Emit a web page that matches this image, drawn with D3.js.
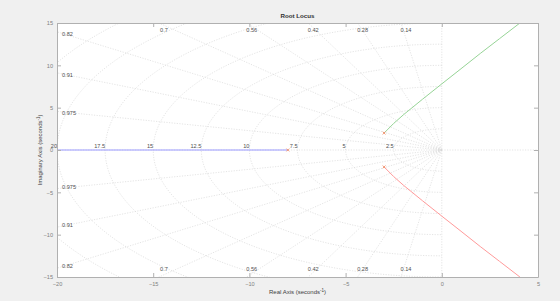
<!DOCTYPE html>
<html>
<head>
<meta charset="utf-8">
<script src="https://cdn.jsdelivr.net/npm/d3@7"></script>
<style>
  body { margin: 0; background: #f0f0f0; }
  text { font-family: "Liberation Sans", Arial, sans-serif; }
</style>
</head>
<body>
<div id="chart"></div>
<script>
// axis ticks
const xTicks = [-20, -15, -10, -5, 0, 5];
const yTicks = [-15, -10, -5, 0, 5, 10, 15];

// open-loop poles (real, imag)
const poleRe = [-8, -3, -3];
const poleIm = [0, 2, -2];

// locus branches
const realBranchX = [-8, -20];
const realBranchY = [0, 0];
const upperBranchX = [-3, -2.5, -2, -1, 0, 1, 2, 3, 4.06];
const upperBranchY = [2, 3.14, 4.15, 6.0, 7.81, 9.6, 11.4, 13.15, 15];
const lowerBranchX = [-3, -2.5, -2, -1, 0, 1, 2, 3, 4.06];
const lowerBranchY = [-2, -3.14, -4.15, -6.0, -7.81, -9.6, -11.4, -13.15, -15];

// s-plane grid
const dampingValues = [0.14, 0.28, 0.42, 0.56, 0.7, 0.82, 0.91, 0.975];
const dampingLabels = ["0.14", "0.28", "0.42", "0.56", "0.7", "0.82", "0.91", "0.975"];
const wnValues = [2.5, 5, 7.5, 10, 12.5, 15, 17.5, 20, 22.5, 25];
const wnLabels = ["2.5", "5", "7.5", "10", "12.5", "15", "17.5", "20", "22.5", "25"];

const W = 560, H = 301;
const m = {left: 57, right: 22, top: 23, bottom: 24};
const pw = W - m.left - m.right, ph = H - m.top - m.bottom;

const x = d3.scaleLinear().domain([-20, 5]).range([0, pw]);
const y = d3.scaleLinear().domain([-15, 15]).range([ph, 0]);

const svg = d3.select("#chart").append("svg")
  .attr("width", W).attr("height", H);
svg.append("rect").attr("width", W).attr("height", H).attr("fill", "#f0f0f0");

const g = svg.append("g").attr("transform", `translate(${m.left},${m.top})`);
g.append("rect").attr("width", pw).attr("height", ph).attr("fill", "#fff");

svg.append("defs").append("clipPath").attr("id", "clip")
  .append("rect").attr("width", pw).attr("height", ph);

const plot = g.append("g").attr("clip-path", "url(#clip)");
const gridColor = "#d8d8d8";
const dash = "1.2,1.4";

// natural frequency semicircles
wnValues.forEach(r => {
  const pts = d3.range(90, 271, 2).map(a => [r * Math.cos(a * Math.PI / 180), r * Math.sin(a * Math.PI / 180)]);
  plot.append("path")
    .attr("d", d3.line().x(d => x(d[0])).y(d => y(d[1]))(pts))
    .attr("fill", "none").attr("stroke", gridColor)
    .attr("stroke-width", 0.7).attr("stroke-dasharray", dash);
});

// damping rays
dampingValues.forEach(z => {
  const th = Math.acos(z);
  [1, -1].forEach(sg => {
    plot.append("line")
      .attr("x1", x(0)).attr("y1", y(0))
      .attr("x2", x(-40 * Math.cos(th))).attr("y2", y(sg * 40 * Math.sin(th)))
      .attr("stroke", gridColor).attr("stroke-width", 0.7).attr("stroke-dasharray", dash);
  });
});

// zero axes
plot.append("line").attr("x1", 0).attr("x2", pw).attr("y1", y(0)).attr("y2", y(0))
  .attr("stroke", gridColor).attr("stroke-width", 0.7).attr("stroke-dasharray", dash);
plot.append("line").attr("x1", x(0)).attr("x2", x(0)).attr("y1", 0).attr("y2", ph)
  .attr("stroke", gridColor).attr("stroke-width", 0.7).attr("stroke-dasharray", dash);

// grid labels
const labelColor = "#505050";
const fs = 5.6;
dampingValues.forEach((z, i) => {
  const t = Math.tan(Math.acos(z));
  [1, -1].forEach(sg => {
    const xt = 15 / t;
    let lx, ly, anchor;
    if (xt <= 20) {
      lx = x(-xt) + 5; ly = sg > 0 ? 7.5 : ph - 7.5; anchor = "middle";
    } else {
      lx = 5; ly = y(sg * 20 * t) + (sg > 0 ? 2 : -2); anchor = "start";
    }
    g.append("text").attr("x", lx).attr("y", ly).attr("dy", "0.35em")
      .attr("text-anchor", anchor).attr("font-size", fs).attr("fill", labelColor)
      .text(dampingLabels[i]);
  });
});
wnValues.forEach((r, i) => {
  if (-r < -20) return;
  g.append("text").attr("x", x(-r)).attr("y", y(0) - 1.8)
    .attr("text-anchor", "end").attr("font-size", fs).attr("fill", labelColor)
    .text(wnLabels[i]);
});

// locus branches
const line = d3.line().x(d => x(d[0])).y(d => y(d[1]));
const branches = [
  [realBranchX, realBranchY, "#9a9aff"],
  [upperBranchX, upperBranchY, "#96d496"],
  [lowerBranchX, lowerBranchY, "#ff9a9a"]
];
branches.forEach(([bx, by, c]) => {
  plot.append("path").attr("d", line(bx.map((v, i) => [v, by[i]])))
    .attr("fill", "none").attr("stroke", c).attr("stroke-width", 1);
});

// poles
poleRe.forEach((re, i) => {
  const px = x(re), py = y(poleIm[i]), s = 1.4;
  plot.append("path")
    .attr("d", `M${px - s},${py - s}L${px + s},${py + s}M${px - s},${py + s}L${px + s},${py - s}`)
    .attr("stroke", "#f0906c").attr("stroke-width", 0.9);
});

// axes with inward ticks and box
const axColor = "#b0b0b0", tickText = "#808080";
function style(sel) {
  sel.selectAll("path").attr("stroke", axColor);
  sel.selectAll("line").attr("stroke", axColor);
  sel.selectAll("text").attr("fill", tickText).attr("font-size", fs)
    .attr("font-family", "Liberation Sans, Arial, sans-serif");
}
g.append("g").attr("transform", `translate(0,${ph})`)
  .call(d3.axisBottom(x).tickValues(xTicks).tickSizeInner(-4).tickSizeOuter(0).tickPadding(5))
  .call(style);
g.append("g")
  .call(d3.axisTop(x).tickValues(xTicks).tickSizeInner(-4).tickSizeOuter(0).tickFormat(""))
  .call(style);
g.append("g")
  .call(d3.axisLeft(y).tickValues(yTicks).tickSizeInner(-4).tickSizeOuter(0).tickPadding(4))
  .call(style);
g.append("g").attr("transform", `translate(${pw},0)`)
  .call(d3.axisRight(y).tickValues(yTicks).tickSizeInner(-4).tickSizeOuter(0).tickFormat(""))
  .call(style);

// titles
svg.append("text").attr("x", m.left + pw / 2).attr("y", 18)
  .attr("text-anchor", "middle").attr("font-size", 6.2).attr("font-weight", "bold")
  .attr("fill", "#303030").text("Root Locus");

const xl = svg.append("text").attr("x", m.left + pw / 2).attr("y", 294)
  .attr("text-anchor", "middle").attr("font-size", 6).attr("fill", "#404040");
xl.append("tspan").text("Real Axis (seconds");
xl.append("tspan").attr("dy", -2.5).attr("font-size", 4.5).text("-1");
xl.append("tspan").attr("dy", 2.5).text(")");

const yl = svg.append("text").attr("transform", `translate(42,${m.top + ph / 2}) rotate(-90)`)
  .attr("text-anchor", "middle").attr("font-size", 6).attr("fill", "#404040");
yl.append("tspan").text("Imaginary Axis (seconds");
yl.append("tspan").attr("dy", -2.5).attr("font-size", 4.5).text("-1");
yl.append("tspan").attr("dy", 2.5).text(")");
</script>
</body>
</html>
